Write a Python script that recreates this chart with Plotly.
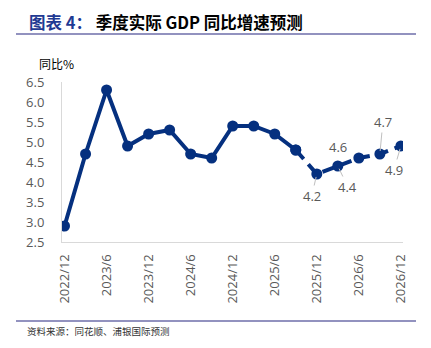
import plotly.graph_objects as go

quarters = ["2022/12", "2023/3", "2023/6", "2023/9", "2023/12", "2024/3", "2024/6", "2024/9",
            "2024/12", "2025/3", "2025/6", "2025/9", "2025/12", "2026/3", "2026/6", "2026/9", "2026/12"]
gdp_yoy = [2.9, 4.7, 6.3, 4.9, 5.2, 5.3, 4.7, 4.6, 5.4, 5.4, 5.2, 4.8, 4.2, 4.4, 4.6, 4.7, 4.9]
n_actual = 12  # first 12 points solid (through 2025/9)
tick_labels = ["2022/12", "2023/6", "2023/12", "2024/6", "2024/12", "2025/6", "2025/12", "2026/6", "2026/12"]
# label offsets (pixels) for forecast points
label_offsets = {12: (-5, 22), 13: (10, 21), 14: (-21, -11), 15: (3, -32), 16: (-7, 24)}
label_arrow = {12: True, 13: True, 14: False, 15: True, 16: True}

NAVY = "#05307f"
FONT = "Open Sans, Noto Sans CJK SC, sans-serif"
CJK = "Noto Sans CJK SC, sans-serif"

idx = list(range(len(quarters)))
fig = go.Figure()
fig.add_trace(go.Scatter(x=idx[:n_actual], y=gdp_yoy[:n_actual], mode="lines+markers",
                         line=dict(color=NAVY, width=4), marker=dict(size=11, color=NAVY),
                         showlegend=False, hoverinfo="skip"))
fig.add_trace(go.Scatter(x=idx[n_actual - 1:], y=gdp_yoy[n_actual - 1:], mode="lines+markers",
                         line=dict(color=NAVY, width=4, dash="12px,7px"), marker=dict(size=11, color=NAVY),
                         showlegend=False, hoverinfo="skip"))

for i, (ax, ay) in label_offsets.items():
    fig.add_annotation(x=i, y=gdp_yoy[i], xref="x", yref="y", text=f"{gdp_yoy[i]:.1f}",
                       showarrow=True, arrowhead=0, arrowwidth=1,
                       arrowcolor="#bfbfbf" if label_arrow[i] else "rgba(0,0,0,0)",
                       ax=ax, ay=ay, standoff=3,
                       font=dict(family=FONT, size=13, color="#595959"))

# title
fig.add_annotation(x=27, y=22, xref="paper", yref="paper", showarrow=False, xanchor="left", yanchor="middle",
                   text="<b><span style='color:#1f3a93'>图表 4：</span> 季度实际 GDP 同比增速预测</b>",
                   font=dict(family=CJK, size=16.5, color="#000000"))
fig.add_annotation(x=56, y=63, xref="paper", yref="paper", showarrow=False, xanchor="center", yanchor="middle",
                   text="同比%", font=dict(family=CJK, size=12, color="#000000"))
fig.add_annotation(x=25, y=331, xref="paper", yref="paper", showarrow=False, xanchor="left", yanchor="middle",
                   text="资料来源：同花顺、浦银国际预测", font=dict(family=CJK, size=9.5, color="#333333"))

W, H = 431, 348
L, R, T, B = 62, 28, 82, 106

def px_to_paper_x(px):
    return (px - L) / (W - L - R)

def px_to_paper_y(py):
    return (H - B - py) / (H - T - B)

# convert annotation paper coords from pixels
for a in fig.layout.annotations:
    if a.xref == "paper":
        a.x = px_to_paper_x(a.x)
        a.y = px_to_paper_y(a.y)

fig.add_shape(type="line", xref="paper", yref="paper", x0=px_to_paper_x(16), x1=px_to_paper_x(416),
              y0=px_to_paper_y(34), y1=px_to_paper_y(34), line=dict(color="#6e6eaa", width=1.5))
fig.add_shape(type="line", xref="paper", yref="paper", x0=px_to_paper_x(16), x1=px_to_paper_x(416),
              y0=px_to_paper_y(321), y1=px_to_paper_y(321), line=dict(color="#6e6eaa", width=1.5))

fig.update_layout(
    width=W, height=H, margin=dict(l=L, r=R, t=T, b=B),
    paper_bgcolor="white", plot_bgcolor="white",
    xaxis=dict(range=[-0.12, 16.1], tickmode="array", tickvals=idx[::2], ticktext=tick_labels,
               tickangle=-90, showgrid=False, zeroline=False, showline=True, linecolor="#d9d9d9",
               linewidth=1, ticks="", ticklabelstandoff=6,
               tickfont=dict(family=FONT, size=13, color="#595959")),
    yaxis=dict(range=[2.5, 6.5], tickmode="array", tickvals=[2.5, 3, 3.5, 4, 4.5, 5, 5.5, 6, 6.5],
               tickformat=".1f", showgrid=False, zeroline=False, showline=True, linecolor="#d9d9d9",
               linewidth=1, ticks="", ticklabelstandoff=14,
               tickfont=dict(family=FONT, size=13, color="#595959")),
)
fig.write_html("out.html")
